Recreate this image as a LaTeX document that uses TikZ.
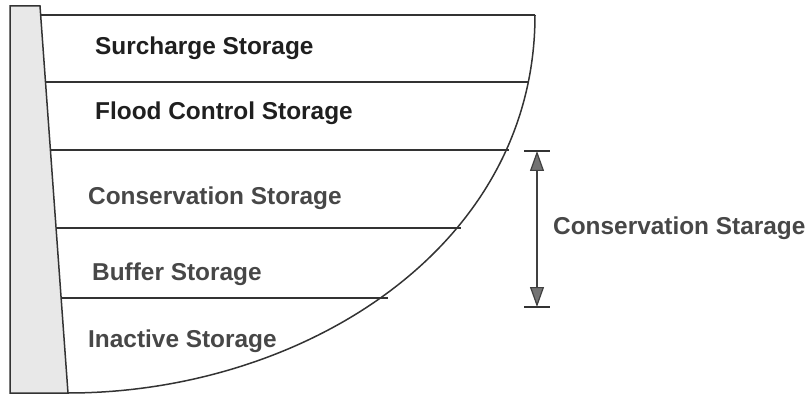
\documentclass[tikz,border=0pt]{standalone}
\usepackage{fontspec}
\setmainfont{Liberation Sans}
\usetikzlibrary{positioning,arrows.meta}

\begin{document}
\begin{tikzpicture}[x=1pt,y=-1pt,
  level/.style={draw=black!80, line width=1.5pt},
  zone/.style={font=\bfseries\fontsize{24.4}{28}\selectfont, anchor=west, inner sep=0pt, text=black!88},
  zonegray/.style={zone, text=black!72},
  dim/.style={draw=black!75, line width=1.2pt, {Triangle[length=20pt,width=14pt,fill=black!55]}-{Triangle[length=20pt,width=14pt,fill=black!55]}},
]
  \useasboundingbox (0,0) rectangle (808,395);
  % dam body
  \draw[level, fill=black!9] (10,6) -- (40,6) -- (68,393) -- (10,393) -- cycle;
  % reservoir outline
  \draw[level] (68,393) .. controls (300,393) and (535,250) .. (535,15);
  % storage levels
  \draw[level] (41,15) -- (535,15);
  \draw[level] (46,82) -- (529,82);
  \draw[level] (51,150) -- (509,150);
  \draw[level] (57,228) -- (461,228);
  \draw[level] (62,298) -- (388,298);
  % zone labels
  \node[zone] (surcharge) at (95,48) {Surcharge Storage};
  \node[zone] (flood) at (95,113) {Flood Control Storage};
  \node[zonegray] (conservation) at (88,198) {Conservation Storage};
  \node[zonegray] (buffer) at (92,274) {Buffer Storage};
  \node[zonegray] (inactive) at (88,341) {Inactive Storage};
  % conservation range
  \coordinate (rtop) at (537,151);
  \coordinate (rbot) at (537,307);
  \draw[line width=1.5pt, black!80] ([xshift=-13pt]rtop) -- ([xshift=13pt]rtop);
  \draw[line width=1.5pt, black!80] ([xshift=-13pt]rbot) -- ([xshift=13pt]rbot);
  \draw[dim] (rtop) -- (rbot);
  \node[zonegray] (range) at (553,228) {Conservation Starage};
\end{tikzpicture}
\end{document}
